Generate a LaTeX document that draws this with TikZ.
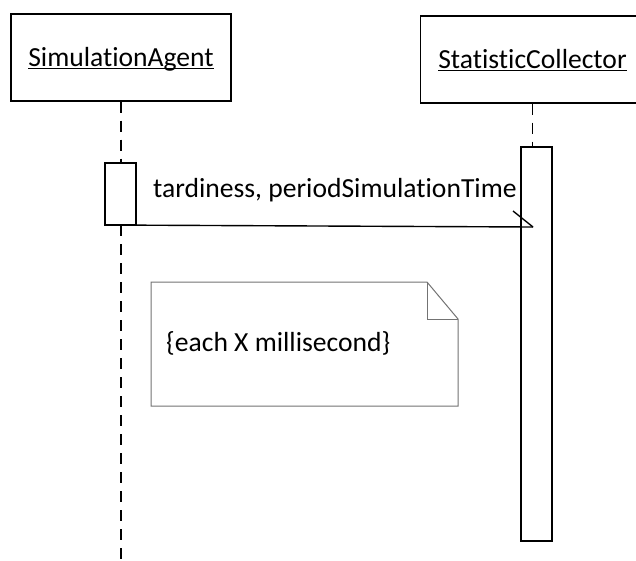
\documentclass[tikz,border=0pt]{standalone}
\usepackage{fontspec}
\setmainfont{Carlito}[Ligatures=NoCommon]
\begin{document}
\begin{tikzpicture}[x=1pt,y=-1pt,
  txt/.style={font=\fontsize{27.6}{32}\selectfont, inner sep=0pt, text=black},
  headbox/.style={draw, line width=1.4pt, rectangle, inner sep=0pt, minimum height=87pt},
  actbox/.style={draw, fill=white, line width=1.4pt},
  lifeline/.style={line width=1.4pt, dash pattern=on 11pt off 8pt},
  msgline/.style={line width=1.4pt},
  noteline/.style={draw=black!55, line width=1pt, fill=white},
  uline/.style={line width=1.3pt}]
  \useasboundingbox (0,0) rectangle (636,560);

  % object heads
  \node[headbox, minimum width=220pt] (sa) at (121,57.5) {};
  \node[headbox, minimum width=224pt] (sc) at (532.5,59.5) {};
  \node[txt, anchor=base] (satxt) at (121,66) {SimulationAgent};
  \node[txt, anchor=base] (sctxt) at (532.5,68) {StatisticCollector};
  \draw[uline] ([yshift=-2.5pt]satxt.base west) -- ([yshift=-2.5pt]satxt.base east);
  \draw[uline] ([yshift=-2.5pt]sctxt.base west) -- ([yshift=-2.5pt]sctxt.base east);

  % activation bars
  \path[actbox] (105,163) rectangle (136,225);
  \path[actbox] (521,147) rectangle (552,541);
  \coordinate (a1n) at (121,163);
  \coordinate (a1s) at (121,225);
  \coordinate (a1sw) at (105,225);
  \coordinate (a2n) at (532.5,147);
  \coordinate (lifeend) at (121,560);

  % lifelines
  \draw[lifeline] (sa.south) -- (a1n);
  \draw[lifeline] (a1s) -- (lifeend);
  \draw[lifeline] (sc.south) -- (a2n);

  % asynchronous message
  \coordinate (msgend) at (533,227);
  \draw[msgline] (a1sw) -- (msgend);
  \draw[msgline] (msgend) -- ++(-20,-16);
  \node[txt, anchor=base west] (msg) at (153,197) {tardiness, periodSimulationTime};

  % note
  \draw[noteline] (151,282) -- (427,282) -- (458,319) -- (458,406) -- (151,406) -- cycle;
  \draw[draw=black!55, line width=1pt] (427,282) -- (427,319) -- (458,319);
  \node[txt, anchor=base west] (note) at (166,351) {\{each X millisecond\}};
\end{tikzpicture}
\end{document}
